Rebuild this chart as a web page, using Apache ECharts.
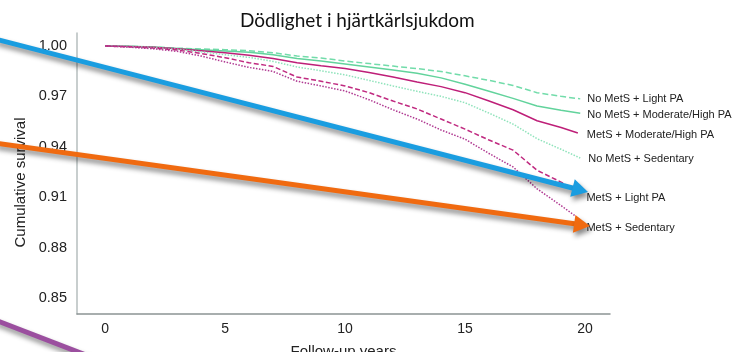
<!DOCTYPE html>
<html>
<head>
<meta charset="utf-8">
<script src="https://cdn.jsdelivr.net/npm/echarts@6/dist/echarts.min.js"></script>
<style>html,body{margin:0;padding:0;background:#fff}#c{width:735px;height:352px}</style>
</head>
<body>
<div id="c"></div>
<script>
var titleText = 'Dödlighet i hjärtkärlsjukdom';
var xName = 'Follow-up years';
var yName = 'Cumulative survival';
var xTicks = [0, 5, 10, 15, 20];
var yTicks = [0.85, 0.88, 0.91, 0.94, 0.97, 1.00];

var yearsA = [0,1,2,3,4,5,6,7,8,9,10,11,12,13,14,15,16,17,18,19,19.8];
var yearsB = [0,1,2,3,4,5,6,7,8,9,10,11,12,13,14,15,16,17,18,19,19.7];
var yearsC = [0,1,2,3,4,5,6,7,8,9,10,11,12,13,14,15,16,17,18,19,19.6];

var noMetsLight = [1.000,.9998,.9993,.9987,.9982,.9978,.9972,.9960,.9940,.9928,.9910,.9895,.9880,.9865,.9848,.9822,.9795,.9765,.9722,.9700,.9685];
var noMetsMod   = [1.000,.9998,.9993,.9985,.9978,.9970,.9962,.9948,.9925,.9910,.9893,.9875,.9857,.9838,.9810,.9772,.9730,.9688,.9643,.9618,.9600];
var metsMod     = [1.000,.9997,.9992,.9983,.9972,.9960,.9945,.9925,.9900,.9882,.9866,.9842,.9815,.9786,.9758,.9722,.9672,.9620,.9555,.9515,.9482];
var noMetsSed   = [1.000,.9997,.9990,.9980,.9965,.9948,.9932,.9908,.9875,.9852,.9828,.9795,.9762,.9730,.9700,.9662,.9600,.9535,.9448,.9385,.9333];
var metsLight   = [1.000,.9995,.9987,.9976,.9955,.9930,.9900,.9878,.9815,.9790,.9762,.9722,.9672,.9625,.9565,.9505,.9440,.9380,.9260,.9190,.9140];
var metsSed     = [1.000,.9993,.9983,.9968,.9940,.9905,.9872,.9848,.9790,.9762,.9732,.9680,.9620,.9565,.9500,.9445,.9360,.9280,.9150,.9050,.8988];

function pairs(xs, ys){ return xs.map(function(x,i){return [x, ys[i]];}); }

var seriesDefs = [
  {name:'No MetS + Light PA', x:yearsA, y:noMetsLight, color:'#72dcaa', type:[6,3], off:[0,0]},
  {name:'No MetS + Moderate/High PA', x:yearsA, y:noMetsMod, color:'#62d39c', type:'solid', off:[0,2]},
  {name:'MetS + Moderate/High PA', x:yearsB, y:metsMod, color:'#be1f78', type:'solid', off:[2,2]},
  {name:'No MetS + Sedentary', x:yearsA, y:noMetsSed, color:'#8fe3bb', type:[1.5,1.5], off:[1,1]},
  {name:'MetS + Light PA', x:yearsC, y:metsLight, color:'#c02a80', type:[5,2.5], off:[4,7]},
  {name:'MetS + Sedentary', x:yearsC, y:metsSed, color:'#b03a92', type:[1.5,1.5], off:[4,12]}
];

function arrow(x1,y1,x2,y2,color,w,hl,hw){
  var dx=x2-x1, dy=y2-y1, L=Math.sqrt(dx*dx+dy*dy), ux=dx/L, uy=dy/L;
  var bx=x2-ux*hl, by=y2-uy*hl, px=-uy, py=ux;
  var sh={shadowColor:'rgba(0,0,0,0.45)', shadowBlur:5, shadowOffsetX:2, shadowOffsetY:4};
  return [
    {type:'line', z:100, shape:{x1:x1,y1:y1,x2:bx+ux*2,y2:by+uy*2}, style:Object.assign({stroke:color, lineWidth:w, lineCap:'butt'}, sh)},
    {type:'polygon', z:101, shape:{points:[[x2,y2],[bx+px*hw,by+py*hw],[bx-px*hw,by-py*hw]]}, style:Object.assign({fill:color}, sh)}
  ];
}

var chart = echarts.init(document.getElementById('c'), null, {renderer:'canvas'});
var graphics = [].concat(
  arrow(-5,39,588,192,'#1a9de0',5,16,9),
  arrow(-5,143,590,226,'#f06a10',5,16,9),
  [{type:'line', z:100, shape:{x1:-5,y1:320,x2:130,y2:372}, style:{stroke:'#9b4f9f', lineWidth:5, shadowColor:'rgba(0,0,0,0.45)', shadowBlur:5, shadowOffsetX:2, shadowOffsetY:4}}]
);

chart.setOption({
  backgroundColor:'#ffffff',
  animation:false,
  title:{text:titleText, left:235, top:6, textStyle:{fontFamily:'Lato', fontSize:19, fontWeight:'normal', color:'#111'}},
  grid:{left:77, right:125, top:33, bottom:38, outerBoundsMode:'none', containLabel:false},
  xAxis:{
    type:'value', min:-1.17, max:21.04,
    axisLine:{show:true, onZero:false, lineStyle:{color:'#8c9494', width:1.5}},
    axisTick:{show:false}, splitLine:{show:false},
    axisLabel:{customValues:xTicks, fontFamily:'Liberation Sans', fontSize:14, color:'#222', margin:8},
    name:xName, nameLocation:'middle', nameGap:30,
    nameTextStyle:{fontFamily:'Liberation Sans', fontSize:15, color:'#222'}
  },
  yAxis:{
    type:'value', min:0.8405, max:1.0077,
    axisLine:{show:true, onZero:false, lineStyle:{color:'#b6bebe', width:1.5}},
    axisTick:{show:false}, splitLine:{show:false},
    axisLabel:{customValues:yTicks, formatter:function(v){return v.toFixed(2);}, fontFamily:'Liberation Sans', fontSize:14.5, color:'#222', margin:10},
    name:yName, nameLocation:'middle', nameRotate:90, nameGap:48,
    nameTextStyle:{fontFamily:'Liberation Sans', fontSize:15, color:'#222', padding:[0,18,0,0]}
  },
  series: seriesDefs.map(function(s){
    return {
      type:'line', name:s.name, data:pairs(s.x, s.y), showSymbol:false, symbol:'none',
      lineStyle:{color:s.color, width:1.5, type:s.type},
      itemStyle:{color:s.color},
      endLabel:{show:true, formatter:'{a}', fontFamily:'Liberation Sans', fontSize:11, color:'#222', distance:7, offset:s.off}
    };
  }),
  graphic: graphics
});
</script>
</body>
</html>
